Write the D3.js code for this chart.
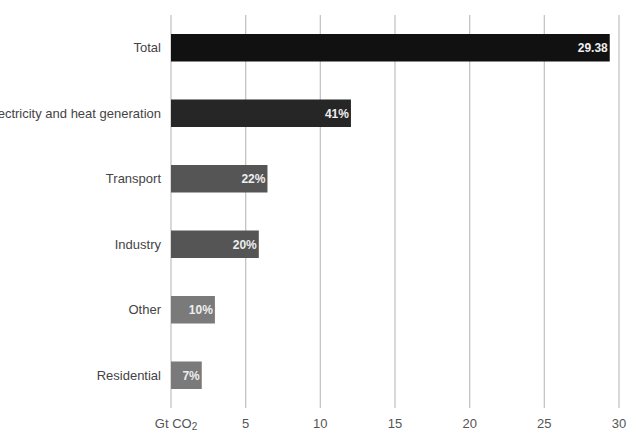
<!DOCTYPE html>
<html>
<head>
<meta charset="utf-8">
<script src="https://cdn.jsdelivr.net/npm/d3@7"></script>
<style>
  body { margin: 0; background: #fff; }
  text { font-family: "Liberation Sans", Arial, sans-serif; }
</style>
</head>
<body>
<svg width="628" height="433"></svg>
<script>
// sectors, Gt CO2 and their share labels
var categories = ['Total', 'Electricity and heat generation', 'Transport', 'Industry', 'Other', 'Residential'];
var values = [29.38, 12.05, 6.46, 5.88, 2.94, 2.06];
var labels = ['29.38', '41%', '22%', '20%', '10%', '7%'];
var colors = ['#111111', '#262626', '#555555', '#555555', '#7a7a7a', '#7a7a7a'];
var ticks = [5, 10, 15, 20, 25, 30];

var margin = {top: 15, left: 171, right: 9, bottom: 25};
var width = 628;
var height = 433;

var data = categories.map((c, i) => ({name: c, value: values[i], label: labels[i], color: colors[i]}));

var xScale = d3.scaleLinear()
  .domain([0, 30])
  .range([margin.left, width - margin.right]);

var yScale = d3.scaleBand()
  .domain(categories)
  .range([margin.top, height - margin.bottom])
  .paddingInner(0.58)
  .paddingOuter(0.29);

var svg = d3.select('svg');

// grid lines
svg.append('g')
  .selectAll('line')
  .data([0].concat(ticks))
  .enter()
  .append('line')
  .attr('x1', d => xScale(d))
  .attr('x2', d => xScale(d))
  .attr('y1', margin.top)
  .attr('y2', height - margin.bottom)
  .attr('stroke', '#c4c4c4')
  .attr('stroke-width', 1.3);

// tick labels
svg.append('g')
  .selectAll('text')
  .data(ticks)
  .enter()
  .append('text')
  .attr('x', d => xScale(d))
  .attr('y', 428)
  .attr('text-anchor', 'middle')
  .attr('font-size', 13)
  .attr('fill', '#555')
  .text(d => d);

var unit = svg.append('text')
  .attr('x', xScale(0) + 5)
  .attr('y', 428)
  .attr('text-anchor', 'middle')
  .attr('font-size', 13)
  .attr('fill', '#555')
  .text('Gt CO');
unit.append('tspan')
  .attr('font-size', 10)
  .attr('dy', 2)
  .text('2');

// bars
svg.append('g')
  .selectAll('rect')
  .data(data)
  .enter()
  .append('rect')
  .attr('x', xScale(0))
  .attr('y', d => yScale(d.name))
  .attr('width', d => xScale(d.value) - xScale(0))
  .attr('height', yScale.bandwidth())
  .attr('fill', d => d.color);

// value labels inside bar ends
svg.append('g')
  .selectAll('text')
  .data(data)
  .enter()
  .append('text')
  .attr('x', d => xScale(d.value) - 2)
  .attr('y', d => yScale(d.name) + yScale.bandwidth() / 2 + 4.5)
  .attr('text-anchor', 'end')
  .attr('font-size', 12)
  .attr('font-weight', 'bold')
  .attr('fill', '#eee')
  .text(d => d.label);

// category labels
svg.append('g')
  .selectAll('text')
  .data(data)
  .enter()
  .append('text')
  .attr('x', xScale(0) - 10)
  .attr('y', d => yScale(d.name) + yScale.bandwidth() / 2 + 4.5)
  .attr('text-anchor', 'end')
  .attr('font-size', 13)
  .attr('fill', '#444')
  .text(d => d.name);
</script>
</body>
</html>
